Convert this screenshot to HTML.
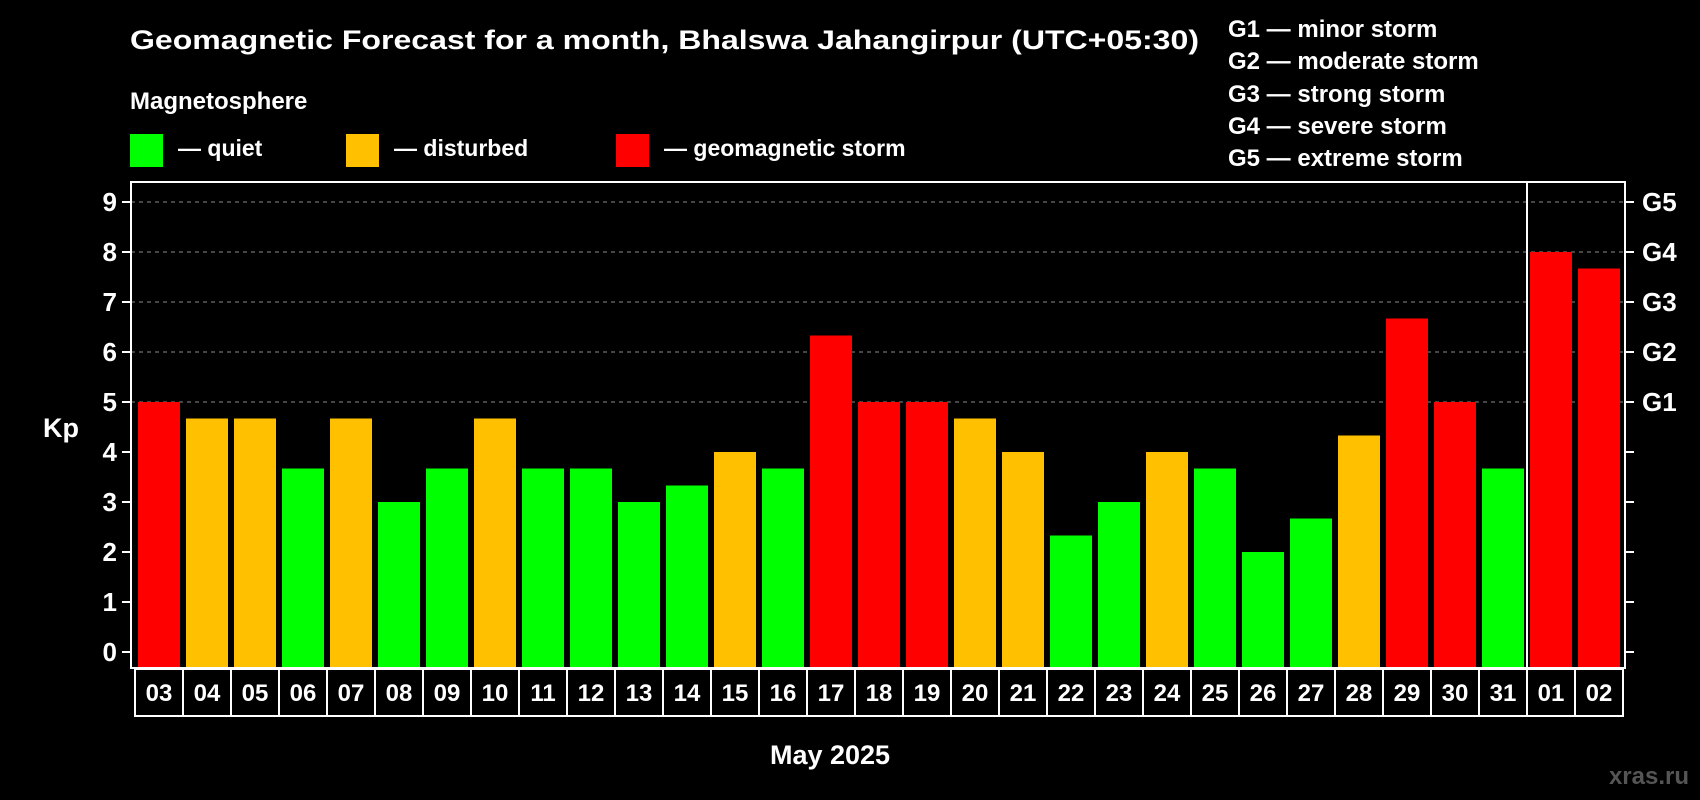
<!DOCTYPE html>
<html><head><meta charset="utf-8"><style>
html,body{margin:0;padding:0;background:#000;}
svg{display:block;font-family:"Liberation Sans",Arial,sans-serif;font-weight:bold;}
</style></head><body>
<svg id="chart" width="1700" height="800" viewBox="0 0 1700 800" xmlns="http://www.w3.org/2000/svg">
<rect x="0" y="0" width="1700" height="800" fill="#000"/>
<text x="130" y="49" fill="#fff" font-size="27" textLength="1069" lengthAdjust="spacingAndGlyphs">Geomagnetic Forecast for a month, Bhalswa Jahangirpur (UTC+05:30)</text>
<text x="130" y="109" fill="#fff" font-size="24">Magnetosphere</text>
<g>
<rect x="130" y="134" width="33" height="33" fill="#00ff00"/>
<text x="178" y="156" fill="#fff" font-size="23">— quiet</text></g>
<g>
<rect x="346" y="134" width="33" height="33" fill="#ffc000"/>
<text x="394" y="156" fill="#fff" font-size="23">— disturbed</text></g>
<g>
<rect x="616" y="134" width="33" height="33" fill="#ff0000"/>
<text x="664" y="156" fill="#fff" font-size="23">— geomagnetic storm</text></g>
<g fill="#fff" font-size="24">
<text x="1228" y="37">G1 — minor storm</text>
<text x="1228" y="69">G2 — moderate storm</text>
<text x="1228" y="102">G3 — strong storm</text>
<text x="1228" y="134">G4 — severe storm</text>
<text x="1228" y="166">G5 — extreme storm</text>
</g>
<g id="grid"></g>
<g id="bars"></g>
<g id="axes"></g>
<text x="43" y="437" fill="#fff" font-size="27">Kp</text>
<text x="830" y="764" fill="#fff" font-size="27" text-anchor="middle">May 2025</text>
<text x="1689" y="784" fill="#555" font-size="24" text-anchor="end">xras.ru</text>
</svg>
<script>
const days = ["03","04","05","06","07","08","09","10","11","12","13","14","15","16","17","18","19","20","21","22","23","24","25","26","27","28","29","30","31","01","02"];
const kpValues = [5,4.67,4.67,3.67,4.67,3,3.67,4.67,3.67,3.67,3,3.33,4,3.67,6.33,5,5,4.67,4,2.33,3,4,3.67,2,2.67,4.33,6.67,5,3.67,8,7.67];
const yTicks = [0,1,2,3,4,5,6,7,8,9];
const gLabels = ["G1","G2","G3","G4","G5"];
const gLevels = [5,6,7,8,9];
const monthBreakIndex = 29;

const NS="http://www.w3.org/2000/svg";
const plotLeft=131, plotRight=1625, plotTop=182, plotBottom=668;
const x0=138, pitch=48, barW=42;
function yScale(v){return 652-50*v;}
function xScale(i){return x0+pitch*i;}
function mk(tag, attrs, parent){const e=document.createElementNS(NS,tag);for(const k in attrs)e.setAttribute(k,attrs[k]);parent.appendChild(e);return e;}
function color(v){return v>=5?"#ff0000":(v>=4?"#ffc000":"#00ff00");}

const grid=document.getElementById("grid"), bars=document.getElementById("bars"), axes=document.getElementById("axes");
gLevels.forEach(v=>{
  const l=mk("line",{x1:plotLeft,x2:plotRight,y1:yScale(v),y2:yScale(v),stroke:"#8a8a8a","stroke-width":1,"stroke-dasharray":"4,4"},grid);
  
  
});
kpValues.forEach((v,i)=>{
  const r=mk("rect",{x:xScale(i),y:yScale(v),width:barW,height:667-yScale(v),fill:color(v)},bars);
  
  
});
const frame=mk("rect",{x:plotLeft,y:plotTop,width:plotRight-plotLeft,height:plotBottom-plotTop,fill:"none",stroke:"#fff","stroke-width":2},axes);


const div=mk("line",{x1:xScale(monthBreakIndex)-3,x2:xScale(monthBreakIndex)-3,y1:plotTop,y2:plotBottom,stroke:"#fff","stroke-width":2},axes);


yTicks.forEach(v=>{
  const tl=mk("line",{x1:122,x2:plotLeft,y1:yScale(v),y2:yScale(v),stroke:"#fff","stroke-width":2},axes);
  
  
  const tr=mk("line",{x1:plotRight,x2:1634,y1:yScale(v),y2:yScale(v),stroke:"#fff","stroke-width":2},axes);
  
  
  const t=mk("text",{x:117,y:yScale(v)+9,fill:"#fff","font-size":26,"text-anchor":"end"},axes);
  t.textContent=v;
  
  
});
gLabels.forEach((g,i)=>{
  const t=mk("text",{x:1642,y:yScale(gLevels[i])+9,fill:"#fff","font-size":26},axes);
  t.textContent=g;
  
  
});
days.forEach((d,i)=>{
  const bx=135+pitch*i;
  const r=mk("rect",{x:bx,y:669,width:pitch,height:47,fill:"none",stroke:"#fff","stroke-width":2},axes);
  
  
  const t=mk("text",{x:bx+pitch/2,y:701,fill:"#fff","font-size":24,"text-anchor":"middle"},axes);
  t.textContent=d;
  
  
});
</script>
</body></html>
